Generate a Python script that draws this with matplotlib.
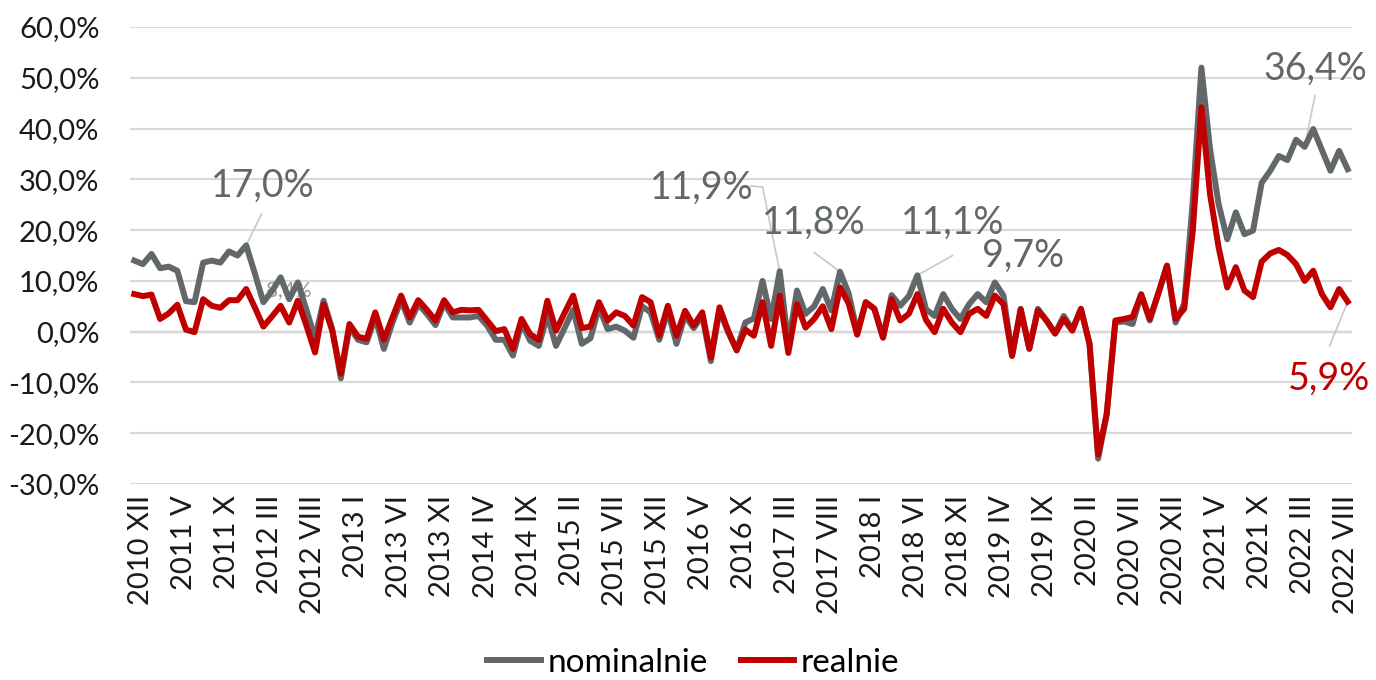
import numpy as np
import matplotlib
matplotlib.use("Agg")
import matplotlib.pyplot as plt
from matplotlib.transforms import ScaledTranslation

plt.rcParams['font.family'] = ['Lato', 'DejaVu Sans']

# Monthly y/y change, Dec 2010 .. Sep 2022 (%)
nominal = [14.0, 13.3, 15.3, 12.5, 12.8, 12.0, 6.0, 5.8, 13.6, 14.0,
           13.6, 15.8, 15.0, 17.0, 11.5, 5.8, 8.0, 10.7, 6.4, 9.7,
           4.3, -1.3, 6.1, 0.5, -9.2, 0.9, -1.6, -2.1, 2.8, -3.4,
           1.8, 6.2, 1.8, 5.4, 3.5, 1.3, 5.6, 2.8, 2.8, 2.8,
           3.1, 1.2, -1.6, -1.6, -4.7, 1.7, -1.8, -2.8, 3.2, -2.8,
           0.7, 4.3, -2.4, -1.3, 4.8, 0.5, 1.0, 0.2, -1.2, 5.0,
           3.8, -1.6, 4.1, -2.4, 3.2, 0.7, 3.1, -5.8, 4.2, -0.1,
           -3.6, 1.8, 2.6, 10.0, 2.5, 11.9, -2.5, 8.1, 3.5, 5.0,
           8.4, 4.2, 11.8, 7.6, -0.1, 5.8, 4.5, -1.1, 7.2, 5.1,
           7.0, 11.1, 4.4, 3.1, 7.4, 4.5, 2.5, 5.4, 7.4, 5.8,
           9.7, 7.1, -4.6, 4.5, -3.3, 4.5, 2.2, -0.3, 3.1, 0.5,
           4.4, -2.4, -25.0, -16.2, 1.8, 2.0, 1.5, 7.4, 2.2, 7.5,
           13.0, 1.8, 5.5, 25.8, 52.0, 36.0, 25.1, 18.2, 23.5, 19.2,
           19.9, 29.3, 31.7, 34.6, 33.8, 37.8, 36.4, 39.9, 35.8, 31.7,
           35.6, 32.0]

real = [7.4, 7.0, 7.3, 2.5, 3.6, 5.3, 0.4, -0.1, 6.4, 5.1,
        4.7, 6.2, 6.2, 8.4, 4.8, 1.0, 3.0, 5.1, 1.8, 6.1,
        1.2, -4.1, 5.4, 0.2, -8.3, 1.5, -1.0, -1.4, 3.8, -1.6,
        2.8, 7.1, 2.8, 6.2, 4.3, 2.2, 6.2, 3.8, 4.3, 4.2,
        4.3, 2.2, 0.1, 0.5, -3.4, 2.5, -0.5, -1.6, 6.1, 0.2,
        3.7, 7.1, 0.7, 1.0, 5.8, 2.2, 3.8, 3.1, 1.2, 6.8,
        5.8, -0.8, 5.1, -0.8, 4.1, 1.2, 3.8, -5.1, 4.8, 0.2,
        -3.7, 0.4, -0.8, 5.8, -2.8, 7.1, -4.2, 5.4, 0.8, 2.5,
        5.0, 0.5, 8.7, 5.6, -0.6, 5.8, 4.5, -1.2, 6.4, 2.2,
        3.5, 7.4, 2.3, -0.1, 4.5, 1.8, -0.1, 3.5, 4.5, 3.1,
        7.1, 5.4, -4.8, 4.4, -3.4, 4.2, 2.2, -0.4, 2.5, 0.2,
        4.5, -2.4, -24.2, -16.2, 2.2, 2.5, 2.9, 7.3, 2.5, 7.6,
        13.0, 2.5, 4.5, 19.9, 44.2, 27.1, 16.6, 8.7, 12.7, 8.1,
        6.8, 13.8, 15.4, 16.1, 15.1, 13.3, 10.0, 12.0, 7.4, 4.8,
        8.4, 5.9]

tick_labels = ["2010 XII", "2011 V", "2011 X", "2012 III", "2012 VIII",
               "2013 I", "2013 VI", "2013 XI", "2014 IV", "2014 IX",
               "2015 II", "2015 VII", "2015 XII", "2016 V", "2016 X",
               "2017 III", "2017 VIII", "2018 I", "2018 VI", "2018 XI",
               "2019 IV", "2019 IX", "2020 II", "2020 VII", "2020 XII",
               "2021 V", "2021 X", "2022 III", "2022 VIII"]

# labelled points: (index, text position, leader start)
gray_notes = [(13, (14.9, 28.7), [(14.8, 23.2)]),
              (75, (66.0, 28.3), [(71.6, 28.7), (73.0, 28.5)]),
              (82, (79.0, 21.5), [(79.0, 15.6)]),
              (91, (95.1, 21.5), [(95.1, 15.0)]),
              (100, (103.3, 15.0), []),
              (136, (137.2, 51.8), [(137.2, 46.5)])]
red_notes = [(141, (138.8, -9.3), [(138.9, -2.8)])]

GRAY = "#62676a"
RED = "#c00000"
LEADER = "#c8c8c8"

def pct(v):
    return f"{v:.1f}%".replace(".", ",")

x = np.arange(len(nominal))

fig = plt.figure(figsize=(13.76, 6.8), dpi=100)
ax = fig.add_axes([130 / 1376, 1 - 484 / 680, (1352 - 130) / 1376, (484 - 27) / 680])

ax.plot(x, nominal, color=GRAY, lw=4.3, solid_joinstyle="round", label="nominalnie", zorder=3)
ax.plot(x, real, color=RED, lw=4.3, solid_joinstyle="round", label="realnie", zorder=4)

ax.set_xlim(-0.5, len(nominal) - 0.5)
ax.set_ylim(-30, 60)
yt = np.arange(-30, 61, 10)
ax.set_yticks(yt)
ax.set_yticklabels([pct(v) for v in yt])
ax.set_xticks(x[::5])
ax.set_xticklabels(tick_labels, rotation=90)
ax.tick_params(axis="both", length=0, labelsize=21, colors="#1a1a1a")
ax.tick_params(axis="y", pad=22)
ax.tick_params(axis="x", pad=8)
shift = ScaledTranslation(7 / 100, 0, fig.dpi_scale_trans)
for lab in ax.get_xticklabels():
    lab.set_transform(lab.get_transform() + shift)

ax.grid(axis="y", color="#d9d9d9", lw=1.5, zorder=0)
ax.axhline(0, color="#8c8c8c", lw=1.6, zorder=1)
for s in ax.spines.values():
    s.set_visible(False)

for idx, txt, leader in gray_notes:
    if leader:
        pts = leader + [(idx, nominal[idx])]
        ax.plot([p[0] for p in pts], [p[1] for p in pts], color=LEADER, lw=1.2, zorder=2)
    ax.text(txt[0], txt[1], pct(nominal[idx]), color=GRAY, fontsize=27,
            ha="center", va="center", zorder=5)
for idx, txt, leader in red_notes:
    pts = leader + [(idx, real[idx])]
    ax.plot([p[0] for p in pts], [p[1] for p in pts], color=LEADER, lw=1.2, zorder=2)
    ax.text(txt[0], txt[1], pct(real[idx]), color=RED, fontsize=27,
            ha="center", va="center", zorder=5)

# small label partly hidden behind the lines
ax.text(18.0, 8.1, pct(real[13]), color="#9a9a9a", fontsize=15,
        ha="center", va="center", zorder=2)

fig.legend(loc="center", bbox_to_anchor=(0.504, 0.025), ncol=2, frameon=False,
           fontsize=24, handlelength=1.6, handletextpad=0.2, columnspacing=1.0)

fig.savefig("out.png", dpi=100)
